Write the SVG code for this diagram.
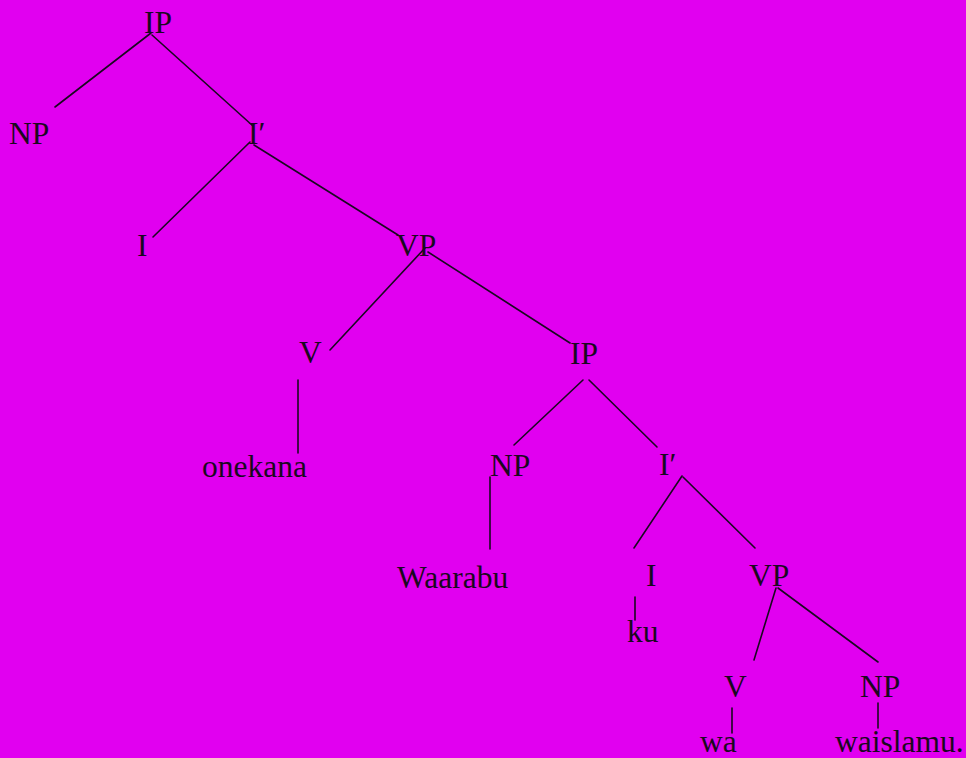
<svg xmlns="http://www.w3.org/2000/svg" width="966" height="758" viewBox="0 0 966 758">
<style>
text{font-family:"Liberation Serif","Times New Roman",serif;font-size:31.5px;fill:#1a0820}
.e{stroke:#1a0820;stroke-width:1.6;fill:none;stroke-linecap:round}
</style>
<rect width="966" height="758" fill="#e100f0"/>
<g id="connectors">
<line class="e" x1="151" y1="33" x2="55" y2="107"/>
<line class="e" x1="152" y1="35" x2="253" y2="126"/>
<line class="e" x1="250" y1="142" x2="153" y2="237"/>
<line class="e" x1="254" y1="145" x2="398" y2="235"/>
<line class="e" x1="425" y1="248" x2="330" y2="350"/>
<line class="e" x1="428" y1="252" x2="570" y2="343"/>
<line class="e" x1="298" y1="380" x2="298" y2="453"/>
<line class="e" x1="583" y1="380" x2="514" y2="445"/>
<line class="e" x1="589" y1="380" x2="657" y2="447"/>
<line class="e" x1="490" y1="477" x2="490" y2="549"/>
<line class="e" x1="682" y1="476" x2="634" y2="548"/>
<line class="e" x1="683" y1="477" x2="755" y2="548"/>
<line class="e" x1="635" y1="597" x2="635" y2="620"/>
<line class="e" x1="776" y1="588" x2="754" y2="660"/>
<line class="e" x1="778" y1="588" x2="878" y2="662"/>
<line class="e" x1="732" y1="708" x2="732" y2="733"/>
<line class="e" x1="878" y1="703" x2="878" y2="728"/>
</g>
<g id="n-ip1"><text x="144" y="33">IP</text></g>
<g id="n-np1"><text x="9" y="144">NP</text></g>
<g id="n-ibar1"><text x="248" y="144">I′</text></g>
<g id="n-i1"><text x="137" y="256">I</text></g>
<g id="n-vp1"><text x="396" y="256">VP</text></g>
<g id="n-v1"><text x="299" y="363">V</text></g>
<g id="n-ip2"><text x="570" y="364">IP</text></g>
<g id="n-onekana"><text x="202" y="477">onekana</text></g>
<g id="n-np2"><text x="490" y="476">NP</text></g>
<g id="n-ibar2"><text x="659" y="475">I′</text></g>
<g id="n-waarabu"><text x="397" y="588">Waarabu</text></g>
<g id="n-i2"><text x="646" y="586">I</text></g>
<g id="n-vp2"><text x="749" y="586">VP</text></g>
<g id="n-ku"><text x="627" y="642">ku</text></g>
<g id="n-v2"><text x="724" y="697">V</text></g>
<g id="n-np3"><text x="860" y="697">NP</text></g>
<g id="n-wa"><text x="700" y="752">wa</text></g>
<g id="n-waislamu"><text x="835" y="752">waislamu.</text></g>
</svg>
